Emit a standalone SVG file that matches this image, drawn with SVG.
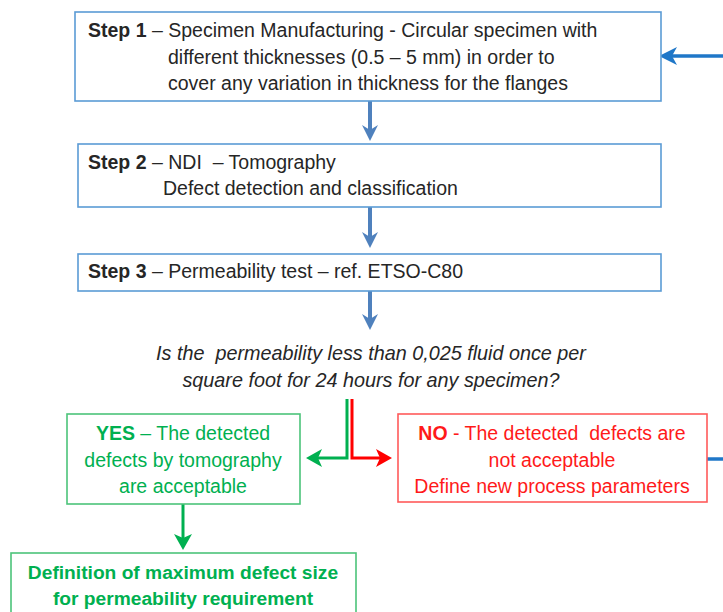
<svg xmlns="http://www.w3.org/2000/svg" width="723" height="612" viewBox="0 0 723 612">
<defs>
<style>
.t{font-family:"Liberation Sans",Arial,sans-serif;font-size:19.5px;fill:#262626}
.b{font-weight:bold}
.box{fill:#fff;stroke-width:1.6}
.blue{stroke:#5B9BD5}
.gbox{stroke:#4CC47A}
.rbox{stroke:#FF5A5A}
.g{fill:#00B050}
.r{fill:#FF1A1A}
.q{font-style:italic;font-size:19.8px}
.c{text-anchor:middle}
.fin{font-size:19.2px}
</style>
<marker id="ab" markerUnits="userSpaceOnUse" viewBox="0 0 20 16" markerWidth="20" markerHeight="16" refX="8" refY="8" orient="auto">
<path d="M0,0 L16,8 L0,16 L5,8 z" fill="#4F81BD"/>
</marker>
<marker id="af" markerUnits="userSpaceOnUse" viewBox="0 0 20 18" markerWidth="20" markerHeight="18" refX="8" refY="9" orient="auto">
<path d="M0,0 L18,9 L0,18 L5,9 z" fill="#1F77C8"/>
</marker>
<marker id="ag" markerUnits="userSpaceOnUse" viewBox="0 0 20 18" markerWidth="20" markerHeight="18" refX="8" refY="9" orient="auto">
<path d="M0,0 L16,9 L0,18 L4,9 z" fill="#00B050"/>
</marker>
<marker id="ar" markerUnits="userSpaceOnUse" viewBox="0 0 20 18" markerWidth="20" markerHeight="18" refX="8" refY="9" orient="auto">
<path d="M0,0 L16,9 L0,18 L4,9 z" fill="#FF0000"/>
</marker>
</defs>
<rect width="723" height="612" fill="#fff"/>

<g id="connectors" fill="none">
<line x1="370" y1="101" x2="370" y2="133" stroke="#4F81BD" stroke-width="4" marker-end="url(#ab)"/>
<line x1="370" y1="207" x2="370" y2="240" stroke="#4F81BD" stroke-width="4" marker-end="url(#ab)"/>
<line x1="370" y1="291" x2="370" y2="322" stroke="#4F81BD" stroke-width="4" marker-end="url(#ab)"/>
<polyline points="347,399 347,458 314,458" stroke="#00B050" stroke-width="3" marker-end="url(#ag)"/>
<polyline points="352,399 352,458 384,458" stroke="#FF0000" stroke-width="3" marker-end="url(#ar)"/>
<line x1="183" y1="504" x2="183" y2="542" stroke="#00B050" stroke-width="3" marker-end="url(#ag)"/>
<line x1="707" y1="459" x2="723" y2="459" stroke="#1F77C8" stroke-width="3.5"/>
<line x1="723" y1="56" x2="669" y2="56" stroke="#1F77C8" stroke-width="3.5" marker-end="url(#af)"/>
</g>

<g id="step1">
<rect class="box blue" x="75" y="12" width="586" height="89"/>
<text class="t" x="88" y="37"><tspan class="b">Step 1</tspan> – Specimen Manufacturing - Circular specimen with</text>
<text class="t" x="168" y="64">different thicknesses (0.5 – 5 mm) in order to</text>
<text class="t" x="168" y="90">cover any variation in thickness for the flanges</text>
</g>

<g id="step2">
<rect class="box blue" x="78" y="144" width="583" height="63"/>
<text class="t" x="88" y="169" xml:space="preserve"><tspan class="b">Step 2</tspan> – NDI  – Tomography</text>
<text class="t" x="163" y="195">Defect detection and classification</text>
</g>

<g id="step3">
<rect class="box blue" x="78" y="254" width="583" height="37"/>
<text class="t" x="88" y="278"><tspan class="b">Step 3</tspan> – Permeability test – ref. ETSO-C80</text>
</g>

<g id="question">
<text class="t q c" x="371" y="360" xml:space="preserve">Is the  permeability less than 0,025 fluid once per</text>
<text class="t q c" x="371" y="387">square foot for 24 hours for any specimen?</text>
</g>

<g id="yes">
<rect class="box gbox" x="67" y="414" width="233" height="90"/>
<text class="t g c" x="183" y="440"><tspan class="b">YES</tspan> – The detected</text>
<text class="t g c" x="183" y="467">defects by tomography</text>
<text class="t g c" x="183" y="493">are acceptable</text>
</g>

<g id="no">
<rect class="box rbox" x="398" y="414" width="309" height="88"/>
<text class="t r c" x="552" y="440" xml:space="preserve"><tspan class="b">NO</tspan> - The detected  defects are</text>
<text class="t r c" x="552" y="467">not acceptable</text>
<text class="t r c" x="552" y="493">Define new process parameters</text>
</g>

<g id="definition">
<rect class="box gbox" x="11" y="553" width="345" height="80"/>
<text class="t g b c fin" x="183" y="579">Definition of maximum defect size</text>
<text class="t g b c fin" x="183" y="605">for permeability requirement</text>
</g>
</svg>
